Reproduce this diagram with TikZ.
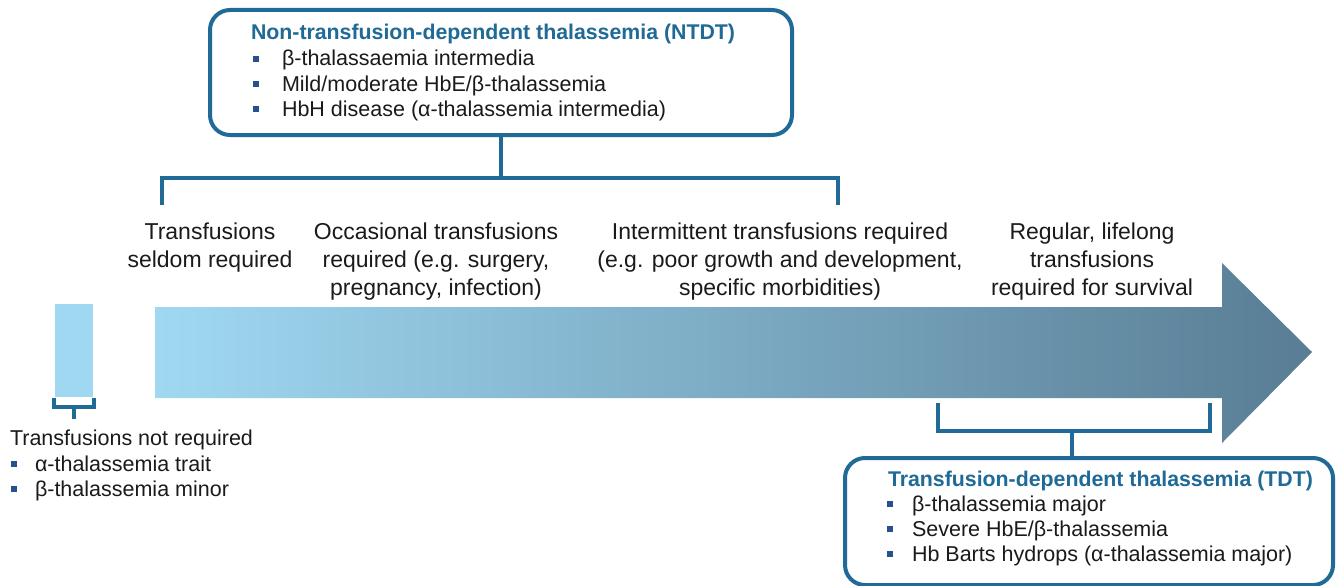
\documentclass[tikz,border=0pt]{standalone}
\usepackage{fontspec}
\setmainfont{Liberation Sans}
\definecolor{frameblue}{RGB}{31,106,150}
\definecolor{bulletblue}{RGB}{40,80,140}
\definecolor{textgray}{RGB}{26,26,26}
\definecolor{lightblue}{RGB}{160,216,242}
\definecolor{slateblue}{RGB}{88,125,148}
\begin{document}
\begin{tikzpicture}[x=1pt,y=-1pt,
 base/.style={inner sep=0pt, outer sep=0pt, text=textgray, font=\fontsize{21.5}{25}\selectfont},
 ttl/.style={base, anchor=base west, text=frameblue, font=\fontsize{21.3}{25}\selectfont\bfseries},
 itm/.style={base, anchor=base west},
 lbl/.style={base, align=center, anchor=base, font=\fontsize{23}{28}\selectfont},
 sq/.style={fill=bulletblue, minimum size=6pt, inner sep=0pt, outer sep=0pt, draw=none},
 frame/.style={draw=frameblue, line width=4pt, rounded corners=20pt, fill=white, inner sep=0pt, outer sep=0pt},
 brk/.style={draw=frameblue, line width=4pt}
]
\useasboundingbox (0,0) rectangle (1338,586);

% main arrow
\shade[left color=lightblue, right color=slateblue]
  (155,307) -- (1222,307) -- (1222,263) -- (1312,352) -- (1222,443) -- (1222,398) -- (155,398) -- cycle;
% small bar
\fill[lightblue] (55,304) rectangle (93,397);

% top box
\node[frame, anchor=north west, minimum width=582pt, minimum height=125pt] (ntdt) at (210,10) {};
\node[ttl] (ntdtT) at (251,40) {Non-transfusion-dependent thalassemia (NTDT)};
\node[sq] (b1) at (256,59) {};
\node[sq] (b2) at (256,84) {};
\node[sq] (b3) at (256,109) {};
\node[itm] (i1) at (282,66) {β-thalassaemia intermedia};
\node[itm] (i2) at (282,91) {Mild/moderate HbE/β-thalassemia};
\node[itm] (i3) at (282,116) {HbH disease (α-thalassemia intermedia)};

% top bracket
\coordinate (tj) at (501,178);
\coordinate (tl) at (162,205);
\coordinate (tr) at (838,205);
\draw[brk] (ntdt.south) -- (ntdt.south |- tj);
\draw[brk] (tl) -- (tl |- tj) -- (tr |- tj) -- (tr);

% labels (anchor = baseline of last line)
\node[lbl] (l1) at (210,267) {Transfusions\\seldom required};
\node[lbl] (l2) at (436,295) {Occasional transfusions\\required (e.g. surgery,\\pregnancy, infection)};
\node[lbl] (l3) at (780,295) {Intermittent transfusions required\\(e.g. poor growth and development,\\specific morbidities)};
\node[lbl] (l4) at (1092,295) {Regular, lifelong\\transfusions\\required for survival};

% small bracket
\coordinate (sl) at (54,398);
\coordinate (sr) at (94,398);
\coordinate (sj) at (74,407);
\coordinate (sb) at (74,419);
\draw[brk, line width=3.5pt] (sl) -- (sl |- sj) -- (sr |- sj) -- (sr);
\draw[brk, line width=3.5pt] (sj) -- (sb);

\node[itm] (n0) at (10,445) {Transfusions not required};
\node[sq] (nb1) at (14,464) {};
\node[sq] (nb2) at (14,489) {};
\node[itm] (n1) at (35,471) {α-thalassemia trait};
\node[itm] (n2) at (35,496) {β-thalassemia minor};

% bottom box
\node[frame, anchor=north west, minimum width=488pt, minimum height=127pt] (tdt) at (845,458) {};
\coordinate (bl) at (938,403);
\coordinate (br) at (1210,403);
\coordinate (bj) at (1072,431);
\draw[brk] (bl) -- (bl |- bj) -- (br |- bj) -- (br);
\draw[brk] (bj) -- (bj |- tdt.north);
\node[ttl] (tdtT) at (888,486) {Transfusion-dependent thalassemia (TDT)};
\node[sq] (c1) at (890,504) {};
\node[sq] (c2) at (890,529) {};
\node[sq] (c3) at (890,554) {};
\node[itm] (j1) at (912,511) {β-thalassemia major};
\node[itm] (j2) at (912,536) {Severe HbE/β-thalassemia};
\node[itm] (j3) at (912,561) {Hb Barts hydrops (α-thalassemia major)};
\end{tikzpicture}
\end{document}
